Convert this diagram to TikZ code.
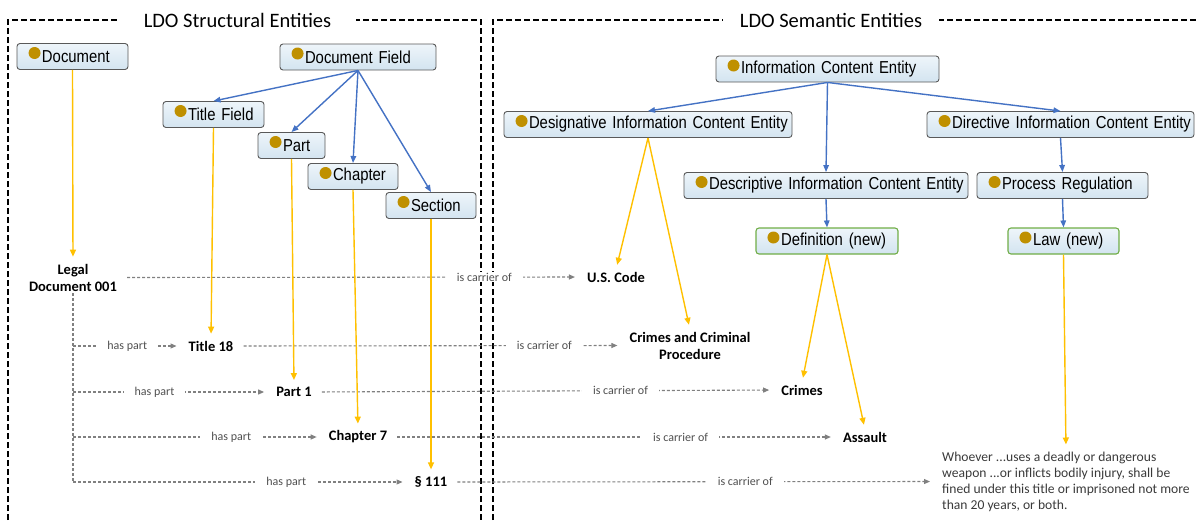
\documentclass[tikz,border=0pt]{standalone}
\usepackage{fontspec}
\setmainfont{Carlito}
\newfontfamily\boxfont[FakeStretch=0.86,WordSpace=0.8]{Liberation Sans}
\usetikzlibrary{arrows.meta}
\definecolor{dotc}{HTML}{BF9000}
\definecolor{gold}{HTML}{FFC000}
\definecolor{bluearr}{HTML}{4472C4}
\definecolor{boxborder}{HTML}{595959}
\definecolor{boxtop}{HTML}{EEF5FA}
\definecolor{boxbot}{HTML}{D3E4F0}
\definecolor{newgreen}{HTML}{70AD47}
\definecolor{linegray}{HTML}{808080}
\definecolor{labelgray}{HTML}{505050}
\definecolor{textdark}{HTML}{3A3A3A}
\begin{document}
\begin{tikzpicture}[x=1pt,y=-1pt,
  ebox/.style={draw=boxborder, line width=0.9pt, rounded corners=3pt,
    top color=boxtop, bottom color=boxbot, minimum height=26pt,
    inner xsep=12pt, inner ysep=0pt, align=left,
    font=\boxfont\fontsize{17.3}{19}\selectfont},
  nbox/.style={ebox, draw=newgreen, line width=1.1pt},
  tnode/.style={font=\bfseries\fontsize{14.5}{17}\selectfont, inner sep=2pt, align=center},
  frame/.style={draw=black, line width=1.6pt, dash pattern=on 6pt off 3pt},
  ftitle/.style={fill=white, inner ysep=2pt, font=\fontsize{20.5}{23}\selectfont},
  gline/.style={draw=linegray, line width=1.1pt, dash pattern=on 3pt off 2pt},
  garrow/.style={gline, -{Triangle[length=6pt,width=5pt]}, shorten >=10pt},
  lbl/.style={fill=white, inner xsep=11pt, inner ysep=1pt, text=labelgray,
    font=\fontsize{12}{14}\selectfont},
  oarrow/.style={draw=gold, line width=1.4pt, -{Triangle[length=7pt,width=6pt]}, shorten >=5pt},
  barrow/.style={draw=bluearr, line width=1.4pt, -{Triangle[length=7pt,width=5.5pt]}}
]
\useasboundingbox (0,0) rectangle (1199,520);

% frames
\draw[frame] (8,520) -- (8,20) -- (481,20) -- (481,520);
\draw[frame] (493,520) -- (493,20) -- (1199,20);
\node[ftitle, inner xsep=25pt] (lt) at (237.5,20) {LDO Structural Entities};
\node[ftitle, inner xsep=17pt] (rt) at (831,20) {LDO Semantic Entities};

% class boxes
\node[ebox, text width=87pt]  (doc)   at (72.5,56.5)  {\noindent\mbox{\hspace*{13pt}Document}};
\node[ebox, text width=132pt] (df)    at (358,57)     {\noindent\mbox{\hspace*{13pt}Document Field}};
\node[ebox, text width=77pt]  (tf)    at (213.5,114.5){\noindent\mbox{\hspace*{13pt}Title Field}};
\node[ebox, text width=43pt]  (part)  at (291.5,145.5){\noindent\mbox{\hspace*{13pt}Part}};
\node[ebox, text width=66pt]  (chap)  at (353,176.5)  {\noindent\mbox{\hspace*{13pt}Chapter}};
\node[ebox, text width=66pt]  (sect)  at (431,205.5)  {\noindent\mbox{\hspace*{13pt}Section}};
\node[ebox, text width=199pt] (ice)   at (827.5,69)   {\noindent\mbox{\hspace*{13pt}Information Content Entity}};
\node[ebox, text width=264pt] (desig) at (648,124.5)  {\noindent\mbox{\hspace*{13pt}Designative Information Content Entity}};
\node[ebox, text width=243pt] (direc) at (1060.5,124.5){\noindent\mbox{\hspace*{13pt}Directive Information Content Entity}};
\node[ebox, text width=260pt] (descr) at (826,185.5)  {\noindent\mbox{\hspace*{13pt}Descriptive Information Content Entity}};
\node[ebox, text width=147pt] (proc)  at (1062.5,185.5){\noindent\mbox{\hspace*{13pt}Process Regulation}};
\node[nbox, text width=118pt] (defn)  at (827,241)    {\noindent\mbox{\hspace*{13pt}Definition (new)}};
\node[nbox, text width=87pt]  (law)   at (1063.5,241) {\noindent\mbox{\hspace*{13pt}Law (new)}};

\foreach \n in {doc,df,tf,part,chap,sect,ice,desig,direc,descr,proc,defn,law}
  \fill[dotc] ([xshift=18pt,yshift=3.5pt]\n.west) circle (6pt);

% instance texts
\node[tnode] (legal) at (73,277.5) {Legal\\Document 001};
\node[tnode] (t18)   at (211,346)  {Title 18};
\node[tnode] (p1)    at (294,392)  {Part 1};
\node[tnode] (c7)    at (358,437)  {Chapter 7};
\node[tnode] (s111)  at (431,482)  {\S\ 111};
\node[tnode] (usc)   at (616,277)  {U.S. Code};
\node[tnode] (ccp)   at (690,345.5){Crimes and Criminal\\Procedure};
\node[tnode] (crimes) at (802,390) {Crimes};
\node[tnode] (assault) at (865,437){Assault};
\node[anchor=west, inner sep=2pt, align=left, text=textdark,
  font=\fontsize{13.6}{16}\selectfont] (who) at (940,481.5)
  {Whoever ...uses a deadly or dangerous\\weapon ...or inflicts bodily injury, shall be\\fined under this title or imprisoned not more\\than 20 years, or both.};

% has part trunk
\coordinate (h1) at (73,346);
\coordinate (h2) at (73,392);
\coordinate (h3) at (73,437);
\coordinate (h4) at (73,482);
\draw[gline] (legal.south) -- (h4);
\draw[garrow] (h1) -- node[lbl,pos=0.478]{has part} (t18.west);
\draw[garrow] (h2) -- node[lbl,pos=0.405]{has part} (p1.west);
\draw[garrow] (h3) -- node[lbl,pos=0.624]{has part} (c7.west);
\draw[garrow] (h4) -- node[lbl,pos=0.628]{has part} (s111.west);

% is carrier of
\draw[garrow, shorten <=8pt] (legal.east) -- node[lbl,pos=0.784]{is carrier of} (usc.west);
\draw[garrow, shorten <=8pt] (t18.east) -- node[lbl,pos=0.788]{is carrier of} (ccp.west);
\draw[garrow, shorten <=8pt] (p1.east) -- node[lbl,pos=0.659]{is carrier of} (crimes.west);
\draw[garrow, shorten <=8pt] (c7.east) -- node[lbl,pos=0.645]{is carrier of} (assault.west);
\draw[garrow, shorten <=8pt] (s111.east) -- node[lbl,pos=0.603]{is carrier of} (who.west);

% instance-of (gold)
\draw[oarrow] (doc.south) -- (legal.north);
\draw[oarrow] (tf.south) -- (t18.north);
\draw[oarrow] (part.south) -- (p1.north);
\draw[oarrow] (chap.south) -- (c7.north);
\draw[oarrow] (sect.south) -- (s111.north);
\draw[oarrow] (desig.south) -- (usc.north);
\draw[oarrow] (desig.south) -- (ccp.north);
\draw[oarrow] (defn.south) -- (crimes.north);
\draw[oarrow] (defn.south) -- (assault.north);
\draw[oarrow] (law.south) -- (who.north);

% subclass (blue)
\draw[barrow] (df.south) -- (tf.north);
\draw[barrow] (df.south) -- (part.north);
\draw[barrow] (df.south) -- (chap.north);
\draw[barrow] (df.south) -- (sect.north);
\draw[barrow] (ice.south) -- (desig.north);
\draw[barrow] (ice.south) -- (descr.north);
\draw[barrow] (ice.south) -- (direc.north);
\draw[barrow] (direc.south) -- (proc.north);
\draw[barrow] (descr.south) -- (defn.north);
\draw[barrow] (proc.south) -- (law.north);
\end{tikzpicture}
\end{document}
